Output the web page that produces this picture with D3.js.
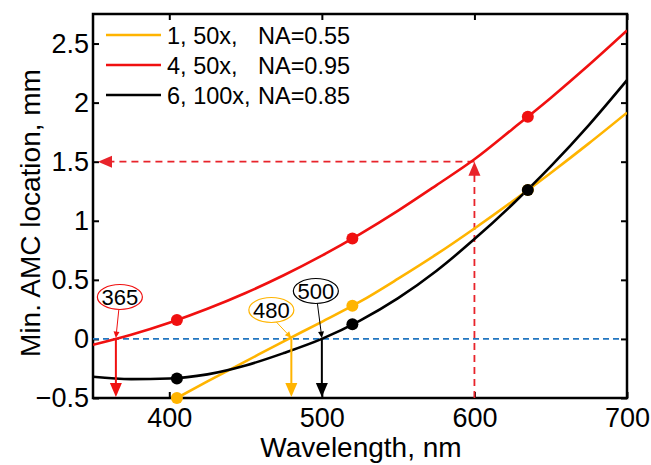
<!DOCTYPE html>
<meta charset="utf-8">
<style>
body { margin: 0; background: #fff; }
svg text { font-family: "Liberation Sans", Arial, sans-serif; fill: #000; }
.axis path, .axis line { stroke: #000; stroke-width: 2; fill: none; }
</style>
<body>
<script src="https://cdn.jsdelivr.net/npm/d3@7/dist/d3.min.js"></script>
<script>
// wavelength grid (nm) and curves
var wl = [350, 375, 400, 425, 450, 475, 500, 525, 550, 575, 600, 625, 650, 675, 700];
var redVals = [-0.05, 0.035, 0.137, 0.255, 0.389, 0.539, 0.705, 0.887, 1.086, 1.30, 1.52, 1.777, 2.04, 2.318, 2.61];
var blackVals = [-0.32, -0.34, -0.335, -0.30, -0.225, -0.12, 0.0, 0.155, 0.345, 0.575, 0.845, 1.14, 1.46, 1.81, 2.19];
var orangeWl = [405, 425, 450, 475, 500, 525, 550, 575, 600, 625, 650, 675, 700];
var orangeVals = [-0.5, -0.36, -0.19, -0.02, 0.145, 0.315, 0.51, 0.715, 0.935, 1.165, 1.405, 1.655, 1.915];

// measured points
var markWl = [405, 520, 635];
var redMarks = [0.16, 0.85, 1.88];
var orangeMarks = [-0.5, 0.28, 1.26];
var blackMarks = [-0.335, 0.125, 1.26];

var xTicks = [400, 500, 600, 700];
var yTicks = [-0.5, 0, 0.5, 1, 1.5, 2, 2.5];
var legendLabels = [["1, 50x,", "NA=0.55"], ["4, 50x,", "NA=0.95"], ["6, 100x,", "NA=0.85"]];
var zeroCross = [365, 480, 500];
var readWl = 600, readVal = 1.5;

var cOrange = "#ffb400", cRed = "#f01010", cBlack = "#000", cBlue = "#2276c0", cDash = "#e8232a";

var W = 651, H = 465;
var svg = d3.select("body").append("svg").attr("width", W).attr("height", H);

var x = d3.scaleLinear().domain([350, 700]).range([93, 627]);
var y = d3.scaleLinear().domain([-0.5, 2.75]).range([398, 14]);

svg.append("defs").append("clipPath").attr("id", "plot")
  .append("rect").attr("x", 93).attr("y", 14).attr("width", 534).attr("height", 384);

// axes with inward ticks on all sides
function tickStyle(g) {
  g.selectAll("text").style("font-size", "27px");
  g.select(".domain").remove();
}
svg.append("g").attr("class", "axis").attr("transform", "translate(0,398)")
  .call(d3.axisBottom(x).tickValues(xTicks).tickSize(-6).tickPadding(10))
  .call(tickStyle);
svg.append("g").attr("class", "axis").attr("transform", "translate(0,14)")
  .call(d3.axisTop(x).tickValues(xTicks).tickSize(-6).tickFormat(""))
  .call(tickStyle);
svg.append("g").attr("class", "axis").attr("transform", "translate(93,0)")
  .call(d3.axisLeft(y).tickValues(yTicks).tickSize(-6).tickPadding(4).tickFormat(d3.format("")))
  .call(tickStyle);
svg.append("g").attr("class", "axis").attr("transform", "translate(627,0)")
  .call(d3.axisRight(y).tickValues(yTicks).tickSize(-6).tickFormat(""))
  .call(tickStyle);

svg.append("rect").attr("x", 93).attr("y", 14).attr("width", 534).attr("height", 384)
  .attr("fill", "none").attr("stroke", "#000").attr("stroke-width", 2.5);

var plot = svg.append("g").attr("clip-path", "url(#plot)");

// zero line
plot.append("line").attr("x1", x(350)).attr("x2", x(697)).attr("y1", y(0)).attr("y2", y(0))
  .attr("stroke", cBlue).attr("stroke-width", 1.6).attr("stroke-dasharray", "6,4");

// red dashed read-out at 600 nm
plot.append("line").attr("x1", x(readWl)).attr("x2", x(readWl)).attr("y1", y(-0.5)).attr("y2", y(readVal) + 12)
  .attr("stroke", cDash).attr("stroke-width", 1.8).attr("stroke-dasharray", "7,5");
plot.append("line").attr("x1", x(readWl)).attr("x2", x(350) + 18).attr("y1", y(readVal)).attr("y2", y(readVal))
  .attr("stroke", cDash).attr("stroke-width", 1.8).attr("stroke-dasharray", "7,5");
var tx = x(readWl), ty = y(readVal);
svg.append("path").attr("d", "M" + tx + "," + ty + "L" + (tx - 6) + "," + (ty + 14) + "L" + (tx + 6) + "," + (ty + 14) + "Z").attr("fill", cDash);
var lx = x(350) + 5;
svg.append("path").attr("d", "M" + lx + "," + ty + "L" + (lx + 14) + "," + (ty - 6) + "L" + (lx + 14) + "," + (ty + 6) + "Z").attr("fill", cDash);

// curves
var line = d3.line().curve(d3.curveMonotoneX);
function drawCurve(xs, ys, col) {
  plot.append("path").attr("d", line(xs.map(function(d, i) { return [x(d), y(ys[i])]; })))
    .attr("fill", "none").attr("stroke", col).attr("stroke-width", 2.6);
}
drawCurve(orangeWl, orangeVals, cOrange);
drawCurve(wl, blackVals, cBlack);
drawCurve(wl, redVals, cRed);

// crossing arrows
var crossCol = [cRed, cOrange, cBlack];
zeroCross.forEach(function(v, i) {
  var cx = x(v);
  svg.append("line").attr("x1", cx).attr("x2", cx).attr("y1", y(0)).attr("y2", y(-0.5) - 12)
    .attr("stroke", crossCol[i]).attr("stroke-width", 2);
  svg.append("path").attr("d", "M" + cx + "," + (y(-0.5) - 1) + "L" + (cx - 6) + "," + (y(-0.5) - 15) + "L" + (cx + 6) + "," + (y(-0.5) - 15) + "Z")
    .attr("fill", crossCol[i]);
});

// markers
function drawMarks(vals, col) {
  svg.selectAll(null).data(markWl).enter().append("circle")
    .attr("cx", function(d) { return x(d); })
    .attr("cy", function(d, i) { return y(vals[i]); })
    .attr("r", 6).attr("fill", col);
}
drawMarks(orangeMarks, cOrange);
drawMarks(redMarks, cRed);
drawMarks(blackMarks, cBlack);

// labelled callouts
var callout = [{dx: 4, cy: 297}, {dx: -20, cy: 310}, {dx: -6, cy: 291}];
zeroCross.forEach(function(v, i) {
  var cx = x(v) + callout[i].dx, cy = callout[i].cy;
  var ex = x(v), ey = y(0) - 1;
  var sx = cx + (ex - cx) * 0.25, sy = cy + 12;
  var ang = Math.atan2(ey - sy, ex - sx);
  svg.append("line").attr("x1", sx).attr("y1", sy).attr("x2", ex - 6 * Math.cos(ang)).attr("y2", ey - 6 * Math.sin(ang))
    .attr("stroke", crossCol[i]).attr("stroke-width", 1);
  var a1 = ang + 2.7, a2 = ang - 2.7;
  svg.append("path").attr("d", "M" + ex + "," + ey + "L" + (ex + 7 * Math.cos(a1)) + "," + (ey + 7 * Math.sin(a1)) +
      "L" + (ex + 7 * Math.cos(a2)) + "," + (ey + 7 * Math.sin(a2)) + "Z").attr("fill", crossCol[i]);
  svg.append("ellipse").attr("cx", cx).attr("cy", cy).attr("rx", 22.5).attr("ry", 12.5)
    .attr("fill", "#fff").attr("stroke", crossCol[i]).attr("stroke-width", 1.2);
  svg.append("text").attr("x", cx).attr("y", cy + 8).attr("text-anchor", "middle")
    .style("font-size", "22px").text(v);
});

// legend
var legCol = [cOrange, cRed, cBlack];
legendLabels.forEach(function(l, i) {
  var ly = 35 + i * 30;
  svg.append("line").attr("x1", 106).attr("x2", 161).attr("y1", ly).attr("y2", ly)
    .attr("stroke", legCol[i]).attr("stroke-width", 2.6);
  svg.append("text").attr("x", 167).attr("y", ly + 8.5).style("font-size", "23.5px").text(l[0]);
  svg.append("text").attr("x", 258).attr("y", ly + 8.5).style("font-size", "23.5px").text(l[1]);
});

// axis titles
svg.append("text").attr("x", 361).attr("y", 457).attr("text-anchor", "middle")
  .style("font-size", "28px").text("Wavelength, nm");
svg.append("text").attr("transform", "translate(40,213) rotate(-90)").attr("text-anchor", "middle")
  .style("font-size", "28px").text("Min. AMC location, mm");
</script>
</body>
